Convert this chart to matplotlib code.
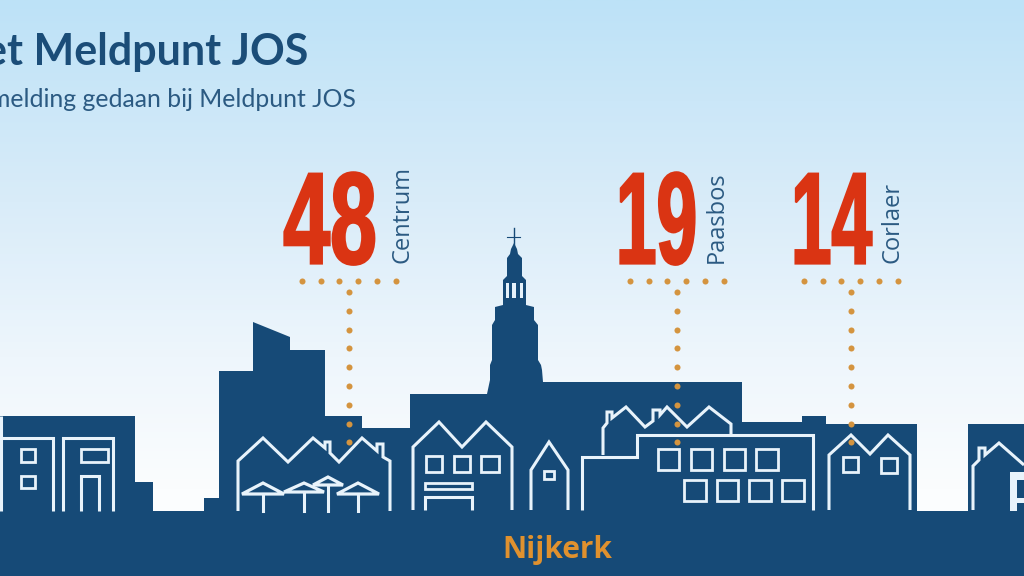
import numpy as np
import matplotlib
matplotlib.use("Agg")
import matplotlib.pyplot as plt
import matplotlib.patheffects as pe
from matplotlib.patches import Polygon, Rectangle
from matplotlib.transforms import Affine2D
from matplotlib.colors import LinearSegmentedColormap

# ---- data ----
districts = ["Centrum", "Paasbos", "Corlaer"]
reports = [48, 19, 14]
town = "Nijkerk"
title = "et Meldpunt JOS"
subtitle = "melding gedaan bij Meldpunt JOS"

# ---- layout of the value blocks (pixels) ----
value_cx = [330, 656.5, 831.5]
value_squeeze = [0.645, 0.56, 0.558]
label_x = [402, 717, 892]
leader_x = [348.5, 677, 851]
row_x0 = [302, 630, 804]

NAVY = "#164a77"
LINE = "#e8f3fb"
RED = "#da3413"
ORANGE = "#d4943f"
TEXT = "#2b5a82"

fig = plt.figure(figsize=(10.24, 5.76), dpi=100)
ax = fig.add_axes([0, 0, 1, 1])
ax.set_xlim(0, 1024)
ax.set_ylim(576, 0)
ax.axis("off")

# sky gradient
cmap = LinearSegmentedColormap.from_list("sky", [(0, "#bde2f7"), (0.35, "#d9ecf9"), (0.62, "#eef6fc"), (0.85, "#fbfdfe"), (1, "#ffffff")])
ax.imshow(np.linspace(0, 1, 256)[:, None], extent=(0, 1024, 576, 0), cmap=cmap, aspect="auto", zorder=0)

# skyline silhouette
skyline = [(0, 416), (135, 416), (135, 482), (153, 482), (153, 511), (204, 511), (204, 498), (219, 498),
           (219, 371), (253, 371), (253, 322), (290, 337), (290, 350), (325, 350), (325, 416), (362, 416),
           (362, 428), (410, 428), (410, 394), (487, 394), (490, 380), (490, 365), (492, 360), (492, 325),
           (495, 320), (495, 307), (503, 305), (503, 280), (507, 276), (507, 258), (510, 254), (511, 249),
           (514, 243), (517, 249), (518, 254), (522, 258), (522, 276), (526, 280), (526, 305), (534, 307),
           (534, 320), (538, 325), (538, 360), (541, 365), (542, 370), (543, 382), (742, 382), (742, 422),
           (802, 422), (802, 416), (826, 416), (826, 424), (917, 424), (917, 511), (968, 511), (968, 424),
           (1024, 424), (1024, 576), (0, 576)]
ax.add_patch(Polygon(skyline, closed=True, fc=NAVY, ec="none", zorder=2))
ax.plot([513.5, 513.5], [228, 246], color=NAVY, lw=1.0, zorder=2)
ax.plot([507, 520], [237, 237], color=NAVY, lw=0.8, zorder=2)
for x0, x1 in [(505.5, 508.5), (511.5, 516), (519.5, 523)]:
    ax.add_patch(Rectangle((x0, 283), x1 - x0, 15, fc="#e6f2fb", ec="none", zorder=3))


def line(pts, lw=2.2):
    xs, ys = zip(*pts)
    ax.plot(xs, ys, color=LINE, lw=lw, solid_joinstyle="miter", solid_capstyle="butt", zorder=4)


def box(x0, y0, x1, y1, lw=2.0):
    ax.add_patch(Rectangle((x0, y0), x1 - x0, y1 - y0, fc="none", ec=LINE, lw=lw, joinstyle="miter", zorder=4))


# left buildings
line([(1, 416), (1, 511)])
line([(0, 438), (53, 438), (53, 511)])
line([(63, 511), (63, 438), (113, 438), (113, 511)])
box(20.5, 448.5, 35, 462)
box(20.5, 475.5, 35, 488)
box(81, 448.5, 108, 462)
line([(81, 511), (81, 476), (99, 476), (99, 511)])

# houses with terrace
line([(238, 511), (238, 461), (263, 438), (288, 462), (313, 438), (325, 448), (325, 442), (330, 442), (330, 453),
      (339, 462), (362, 438), (377, 451), (377, 444), (383, 444), (383, 457), (390, 461), (390, 511)])
for apex_x, apex_y, half, base_y in [(328, 477, 15, 485), (263, 483, 21, 494), (304, 483, 20, 492), (358, 483, 21, 494)]:
    ax.add_patch(Polygon([(apex_x - half, base_y), (apex_x, apex_y), (apex_x + half, base_y)], closed=True,
                         fc=NAVY, ec=LINE, lw=2.3, zorder=5))
    ax.plot([apex_x, apex_x], [base_y, 511], color=LINE, lw=2.2, zorder=5)

# double house
line([(413, 510), (413, 447), (439, 422), (462, 447), (486, 422), (512, 447), (512, 510)])
for x0, x1 in [(426, 442), (454, 470), (481, 499)]:
    box(x0, 456, x1, 472)
box(425, 483, 472, 489)
line([(425, 510), (425, 497), (472, 497), (472, 510)])

# narrow house
line([(531, 510), (531, 470), (549, 442), (568, 470), (568, 510)])
box(544, 470.5, 554, 478.5)

# large building
line([(582, 510), (582, 457), (637, 457), (637, 435), (813, 435), (813, 510)])
line([(603, 455), (603, 428), (607, 423), (607, 412), (612, 412), (612, 418), (626, 407), (645, 427), (653, 421),
      (653, 410), (660, 410), (660, 415), (667, 407), (687, 427), (709, 407), (731, 424), (731, 435)])
for x0, x1 in [(658, 679), (691, 712), (724, 745), (756, 778)]:
    box(x0, 449, x1, 470)
for x0, x1 in [(684, 706), (717, 738), (749, 771), (782, 804)]:
    box(x0, 480, x1, 501)

# Corlaer house
line([(829, 510), (829, 455), (851, 435), (870, 454), (888, 435), (910, 455), (910, 510)])
box(843, 457, 858, 472)
box(881, 458, 897, 473)

# right house
line([(973, 510), (973, 466), (979, 460), (979, 448), (985, 448), (985, 455), (999, 443), (1024, 465)])
ax.add_patch(Rectangle((1010, 472), 7, 39, fc=LINE, ec="none", zorder=4))
ax.add_patch(Rectangle((1017, 472), 7, 8, fc=LINE, ec="none", zorder=4))
ax.add_patch(Rectangle((1017, 498), 7, 5, fc=LINE, ec="none", zorder=4))


class Squeeze(pe.AbstractPathEffect):
    """Draws real text narrower and heavier, standing in for a condensed display face."""

    def __init__(self, cx_px, sx, stroke, color):
        super().__init__()
        self.cx_px, self.sx, self.stroke, self.color = cx_px, sx, stroke, color

    def draw_path(self, renderer, gc, tpath, affine, rgbFace=None):
        squeeze = Affine2D().translate(-self.cx_px, 0).scale(self.sx, 1).translate(self.cx_px, 0)
        gc0 = renderer.new_gc()
        gc0.copy_properties(gc)
        gc0.set_linewidth(self.stroke)
        gc0.set_foreground(self.color)
        gc0.set_joinstyle("miter")
        renderer.draw_path(gc0, tpath, affine + squeeze, rgbFace)
        gc0.restore()


# values, labels and dotted leaders
for name, val, cx, sx, lx, dx, rx in zip(districts, reports, value_cx, value_squeeze, label_x, leader_x, row_x0):
    px = ax.transData.transform((cx, 0))[0]
    ax.text(cx, 263.5, str(val), family="Liberation Sans", weight="bold", fontsize=94,
            color=RED, ha="center", va="baseline", zorder=6, path_effects=[Squeeze(px, sx, 1.6, RED)])
    ax.text(lx, 263, name, family="Open Sans", fontsize=17, color=TEXT, rotation=90, ha="center", va="bottom", zorder=6)
    ax.scatter(rx + 18.7 * np.arange(6), np.full(6, 281), s=19, color=ORANGE, lw=0, zorder=7)
    ax.scatter(np.full(9, dx), 292 + 18.8 * np.arange(9), s=19, color=ORANGE, lw=0, zorder=7)

ax.text(308, 65, title, family="Lato", weight="bold", fontsize=31, color="#1b4d78", ha="right", va="baseline", zorder=6)
ax.text(356, 107, subtitle, family="Lato", fontsize=17.8, color=TEXT, ha="right", va="baseline", zorder=6)
ax.text(557, 558, town, family="Open Sans", weight="bold", fontsize=21.4, color="#e0912e", ha="center", va="baseline", zorder=6)

fig.savefig("out.png", dpi=100)
